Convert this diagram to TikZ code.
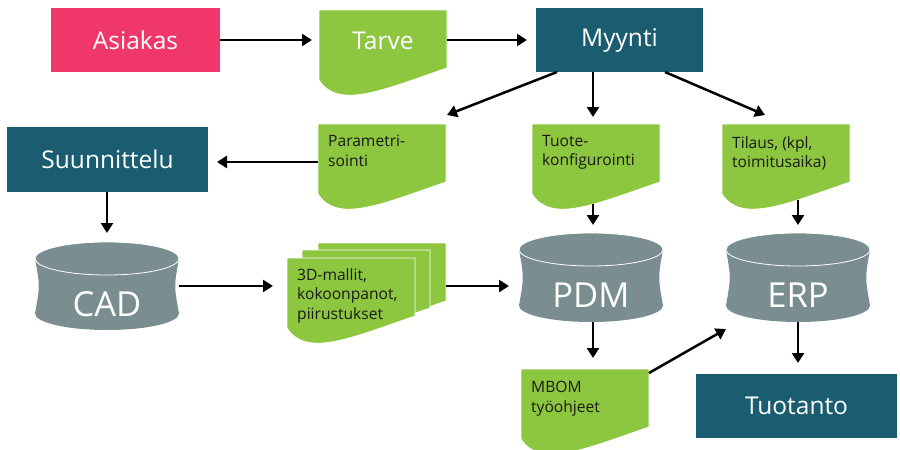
\documentclass[tikz,border=0pt]{standalone}
\usepackage{fontspec}
\setmainfont{Open Sans}
\usetikzlibrary{arrows.meta,calc}

\definecolor{pinkred}{RGB}{239,55,105}
\definecolor{deepteal}{RGB}{27,93,112}
\definecolor{leafgreen}{RGB}{141,198,63}
\definecolor{slategrey}{RGB}{122,142,145}
\definecolor{inkdark}{RGB}{26,26,26}

\tikzset{
  boxnode/.style={rectangle, inner sep=0pt, outer sep=0pt, text=white,
    font=\fontsize{24.5}{29}\selectfont},
  arr/.style={line width=2.5pt, -{Triangle[length=10pt,width=12pt]}},
  docbox/.style={rectangle, inner sep=0pt, outer sep=0pt,
    minimum width=128pt, minimum height=84pt},
  doclabel/.style={inner sep=0pt, anchor=north west, align=left, text=inkdark,
    font=\fontsize{15.6}{19.5}\selectfont},
  cylbox/.style={rectangle, inner sep=0pt, outer sep=0pt, minimum width=144pt},
  cyllabel/.style={inner sep=0pt, text=white, font=\fontsize{34.5}{41}\selectfont},
}

% document sheet with a wavy lower edge: name, left x, top y
\newcommand\docshape[3]{%
  \fill[leafgreen, draw=white, line width=0.8pt]
    (#2,#3) -- (#2+128,#3) -- (#2+128,#3+58)
    .. controls (#2+64,#3+80) and (#2+19,#3+100) .. (#2,#3+70) -- cycle;
  \node[docbox] (#1) at (#2+64,#3+42) {};
}

% database drum with slightly waisted sides: name, centre x, top y, bottom y, label
\newcommand\cylshape[5]{%
  \pgfmathsetmacro\cylLx{#2-72}\pgfmathsetmacro\cylRx{#2+72}%
  \pgfmathsetmacro\cylTy{#3+16.5}\pgfmathsetmacro\cylBy{#4-16.5}%
  \pgfmathsetmacro\cylMy{(#3+#4)/2}%
  \fill[slategrey] (\cylLx,\cylTy) .. controls (\cylLx+5,\cylMy) .. (\cylLx,\cylBy)
    .. controls (\cylLx,\cylBy+9.1) and (#2-39.8,#4) .. (#2,#4)
    .. controls (#2+39.8,#4) and (\cylRx,\cylBy+9.1) .. (\cylRx,\cylBy)
    .. controls (\cylRx-5,\cylMy) .. (\cylRx,\cylTy) -- cycle;
  \filldraw[fill=slategrey, draw=white, line width=0.8pt]
    (#2,\cylTy) ellipse [x radius=72, y radius=16.5];
  \node[cylbox, minimum height=#4-#3] (#1) at (#2,\cylMy) {};
  \node[cyllabel] (#1-label) at (#2,#3+62) {#5};
}

\begin{document}
\begin{tikzpicture}[x=1pt, y=-1pt]
\useasboundingbox (0,0) rectangle (900,450);
\clip (0,0) rectangle (900,450);

% process boxes
\node[boxnode, fill=pinkred, minimum width=169pt, minimum height=64pt] (asiakas) at (135.5,40) {Asiakas};
\node[boxnode, fill=deepteal, minimum width=167pt, minimum height=64pt] (myynti) at (619.5,40) {Myynti};
\node[boxnode, fill=deepteal, minimum width=201pt, minimum height=65pt] (suun) at (107.5,159.5) {Suunnittelu};
\node[boxnode, fill=deepteal, minimum width=201pt, minimum height=64pt] (tuotanto) at (796.5,406) {Tuotanto};

% documents
\docshape{tarve}{319}{10}
\node[boxnode] (tarve-label) at (383,41) {Tarve};

\docshape{param}{318}{124}
\node[doclabel] (param-label) at (328,135) {Parametri-\\sointi};

\docshape{tuote}{532}{124}
\node[doclabel] (tuote-label) at (542,135) {Tuote-\\konfigurointi};

\docshape{tilaus}{722}{124}
\node[doclabel] (tilaus-label) at (732,136) {Tilaus, (kpl,\\toimitusaika)};

\docshape{mbom}{521}{369}
\node[doclabel] (mbom-label) at (531,381) {MBOM\\työohjeet};

% stacked model documents
\docshape{back}{318}{243}
\docshape{mid}{302}{250}
\docshape{front}{287}{258}
\node[doclabel] (front-label) at (297,268) {3D-mallit,\\kokoonpanot,\\piirustukset};

% databases
\cylshape{cad}{107}{242}{330}{CAD}
\cylshape{pdm}{591}{233}{322}{PDM}
\cylshape{erp}{798}{233}{322}{ERP}

\coordinate (spine) at ([xshift=-26.5pt]myynti.south);

% connectors
\draw[arr, shorten >=7pt] (asiakas.east) -- (tarve.west |- asiakas.east);
\draw[arr, shorten >=9pt] (tarve.east |- myynti.west) -- (myynti.west);
\draw[arr] ([xshift=-62.5pt]myynti.south) -- ([shift={(1pt,9pt)}]param.north east);
\draw[arr, shorten >=7pt] (spine) -- (spine |- tuote.north);
\draw[arr] ([xshift=45.5pt]myynti.south) -- ([shift={(43pt,9pt)}]tilaus.north west);
\draw[arr, shorten >=9pt] ([yshift=4pt]param.west) -- ([yshift=4pt]param.west -| suun.east);
\draw[arr, shorten >=9pt] (cad.north |- suun.south) -- (cad.north);
\draw[arr, shorten >=14pt] (cad.east) -- (cad.east -| front.west);
\draw[arr, shorten >=10pt] (back.east |- cad.east) -- (cad.east -| pdm.west);
\draw[arr, shorten >=8pt] ($(spine |- tuote.south)+(0,-4)$) -- (spine |- pdm.north);
\draw[arr, shorten >=8pt] ($(erp.north |- tilaus.south)+(0,-8)$) -- (erp.north);
\draw[arr, shorten >=11pt] (spine |- pdm.south) -- (spine |- mbom.north);
\draw[arr] ($(mbom.north east)+(0,4)$) -- ($(erp.south west)+(0,7)$);
\draw[arr, shorten >=11pt] (erp.south) -- (erp.south |- tuotanto.north);
\end{tikzpicture}
\end{document}
